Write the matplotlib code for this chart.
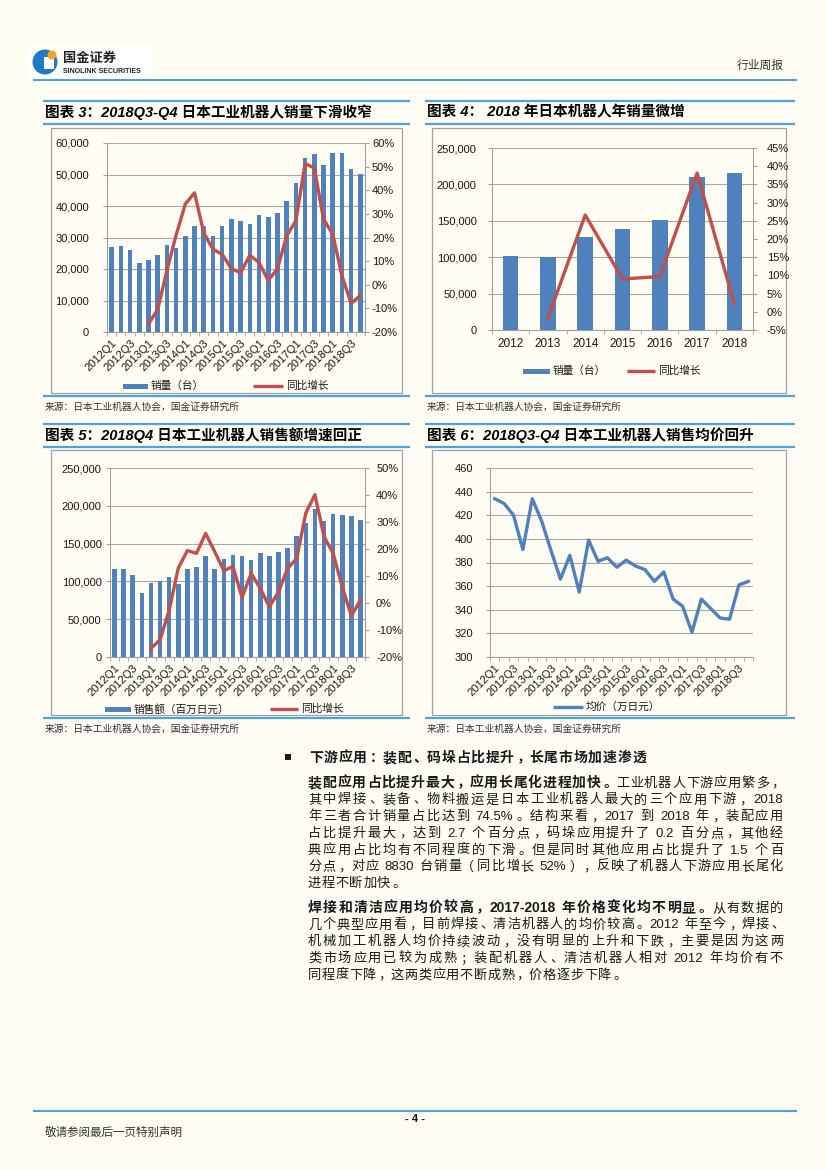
import re

import matplotlib
matplotlib.use("Agg")
import matplotlib.pyplot as plt
import numpy as np
from matplotlib.patches import Rectangle, Circle

plt.rcParams["font.family"] = ["Liberation Sans", "Noto Sans CJK SC", "DejaVu Sans"]
plt.rcParams["axes.unicode_minus"] = False

W, H = 827, 1170
BG = "#FEFCF3"
BAR_BLUE = "#4F81BD"
LINE_RED = "#C0504D"
BAND_BLUE = "#4BA5D8"
GRID = "#A8A8A8"
BOX = "#A0A0A0"
TXT = "#1A1A1A"

# ---------------- data ----------------
quarters = [f"{y}Q{q}" for y in range(2012, 2019) for q in range(1, 5)]
years = ["2012", "2013", "2014", "2015", "2016", "2017", "2018"]

# 图表3 季度销量（台）及同比（%，从2013Q1开始）
units_q = [27000, 27300, 26000, 21900, 22800, 24500, 27700, 26700,
           30400, 33600, 33500, 30600, 33800, 35800, 35200, 34200,
           37200, 36600, 37900, 41600, 47200, 55100, 56600, 52900,
           56800, 56800, 51700, 50100]
units_yoy = [-16.6, -10.5, 6.0, 21.0, 34.2, 38.9, 22.0, 15.0,
             12.9, 6.8, 5.1, 12.5, 9.4, 1.8, 6.8, 20.7,
             27.1, 51.3, 49.4, 27.8, 21.4, 3.7, -7.9, -4.5]

# 图表4 年销量（台）及同比（%，从2013开始）
units_y = [102100, 100300, 127700, 139200, 151600, 210200, 215200]
units_y_yoy = [-1.7, 26.6, 9.0, 9.7, 38.1, 2.2]

# 图表5 季度销售额（百万日元）及同比（%，从2013Q1开始）
sales_q = [117000, 116000, 109000, 85000, 98000, 100000, 106000, 96000,
           116000, 119000, 134000, 116000, 130000, 135000, 134000, 128000,
           138000, 133000, 139000, 144000, 160000, 177000, 196000, 180000,
           189000, 188000, 186000, 181000]
sales_yoy = [-16.8, -13.6, -2.6, 13.0, 19.4, 18.4, 25.8, 19.0,
             12.0, 13.5, 2.0, 11.0, 5.4, -1.4, 4.1, 12.8,
             16.5, 33.3, 40.1, 24.6, 18.4, 6.0, -4.8, 1.1]

# 图表6 均价（万日元）
price_q = [434, 430, 420, 391, 434, 415, 390, 366, 386, 355, 399, 381,
           384, 376, 382, 377, 374, 364, 372, 349, 343, 321, 349, 341,
           333, 332, 361, 364]

# ---------------- page ----------------
fig = plt.figure(figsize=(W / 100, H / 100), dpi=100, facecolor=BG)
page = fig.add_axes([0, 0, 1, 1], zorder=0)
page.set_xlim(0, W)
page.set_ylim(H, 0)
page.axis("off")
renderer = fig.canvas.get_renderer()


def frac(x0, y0, x1, y1):
    return [x0 / W, 1 - y1 / H, (x1 - x0) / W, (y1 - y0) / H]


def hline(x0, x1, y, color=BAND_BLUE, lw=1.6):
    page.plot([x0, x1], [y, y], color=color, lw=lw, solid_capstyle="butt")


# logo
page.add_patch(Rectangle((28, 45), 124, 33, fc="white", ec="none"))
page.add_patch(Circle((45, 62), 12.5, fc="#1F79C4", ec="none"))
page.add_patch(Rectangle((44, 57), 9.5, 12, fc="white", ec="none"))
page.add_patch(Circle((52, 55), 4.5, fc="#F2A51F", ec="none"))
page.text(63, 59, "国金证券", fontsize=9.5, fontweight="bold", va="center", color="#222222")
page.text(63, 71.5, "SINOLINK SECURITIES", fontsize=5.0, fontweight="bold", va="center", color="#222222")
page.text(784, 66, "行业周报", fontsize=8.5, ha="right", va="center", color="#333333")
hline(33, 797, 80, lw=1.5)

# chart panels: band x-range, band top y, title, box, source y
panels = [
    (43, 410, 101, "图表 3：2018Q3-Q4 日本工业机器人销量下滑收窄", (51, 128, 402, 393), 407),
    (425, 795, 101, "图表 4： 2018 年日本机器人年销量微增", (432, 128, 786, 393), 407),
    (43, 410, 424, "图表 5：2018Q4 日本工业机器人销售额增速回正", (51, 450, 402, 715), 729),
    (425, 795, 424, "图表 6：2018Q3-Q4 日本工业机器人销售均价回升", (432, 450, 786, 715), 729),
]
for bx0, bx1, by, title, box, sy in panels:
    hline(bx0, bx1, by)
    hline(bx0, bx1, by + 23)
    page.text(bx0 + 2, by + 11.5, title, fontsize=10.5, fontweight="bold",
              style="italic", va="center", color="black")
    page.add_patch(Rectangle((box[0], box[1]), box[2] - box[0], box[3] - box[1],
                             fc="none", ec=BOX, lw=0.9))
    hline(bx0, bx1, box[3] + 3)
    page.text(bx0 + 2, sy, "来源：日本工业机器人协会，国金证券研究所", fontsize=7,
              va="center", color="#333333")


def legend_bar(x0, x1, y, label):
    page.add_patch(Rectangle((x0, y - 2.5), x1 - x0, 5, fc=BAR_BLUE, ec="none"))
    page.text(x1 + 3, y, label, fontsize=7.7, va="center", color=TXT)


def legend_line(x0, x1, y, label, color):
    page.plot([x0, x1], [y, y], color=color, lw=2.4, solid_capstyle="butt")
    page.text(x1 + 3, y, label, fontsize=7.7, va="center", color=TXT)


def style(ax, pad):
    ax.set_facecolor("none")
    ax.spines["top"].set_visible(False)
    ax.spines["right"].set_visible(False)
    for s in ("left", "bottom"):
        ax.spines[s].set_color(BOX)
        ax.spines[s].set_linewidth(0.8)
    ax.grid(axis="y", color=GRID, lw=0.8)
    ax.set_axisbelow(True)
    ax.tick_params(axis="y", length=3, color=BOX, labelsize=8, labelcolor=TXT, pad=pad)


def style_right(ar, pad):
    for s in ("top", "left", "bottom"):
        ar.spines[s].set_visible(False)
    ar.spines["right"].set_color(BOX)
    ar.spines["right"].set_linewidth(0.8)
    ar.tick_params(axis="y", length=3, color=BOX, labelsize=8, labelcolor=TXT, pad=pad)


def quarter_xaxis(ax, n):
    ax.set_xlim(-0.5, n - 0.5)
    ax.set_xticks(np.arange(0, n, 2))
    ax.set_xticklabels(quarters[::2], rotation=45, ha="right", va="top",
                       rotation_mode="anchor", fontsize=8, color=TXT)
    ax.set_xticks(np.arange(-0.5, n, 1), minor=True)
    ax.tick_params(axis="x", which="major", length=0, pad=4)
    ax.tick_params(axis="x", which="minor", length=3, color=BOX)


def pct_axis(ar, lo, hi, step):
    ticks = list(range(lo, hi + 1, step))
    ar.set_ylim(lo, hi)
    ar.set_yticks(ticks)
    ar.set_yticklabels([f"{t}%" for t in ticks])


def num_axis(ax, hi, step):
    ticks = list(range(0, hi + 1, step))
    ax.set_ylim(0, hi)
    ax.set_yticks(ticks)
    ax.set_yticklabels([f"{t:,}" for t in ticks])


nq = len(units_q)
xq = np.arange(nq)

# 图表3
ax3 = fig.add_axes(frac(107, 143, 365, 332), zorder=2)
ax3.bar(xq, units_q, width=0.5, color=BAR_BLUE, zorder=2)
num_axis(ax3, 60000, 10000)
style(ax3, 10)
quarter_xaxis(ax3, nq)
ax3r = ax3.twinx()
ax3r.plot(xq[nq - len(units_yoy):], units_yoy, color=LINE_RED, lw=2.4, solid_joinstyle="round")
pct_axis(ax3r, -20, 60, 10)
style_right(ax3r, 2)
legend_bar(123, 148, 386, "销量（台）")
legend_line(253, 283, 386, "同比增长", LINE_RED)

# 图表4
xy = np.arange(len(years))
ax4 = fig.add_axes(frac(492, 148, 753, 330), zorder=2)
ax4.bar(xy, units_y, width=0.42, color=BAR_BLUE, zorder=2)
num_axis(ax4, 250000, 50000)
style(ax4, 8)
ax4.set_xlim(-0.5, len(years) - 0.5)
ax4.set_xticks(xy)
ax4.set_xticklabels(years, fontsize=8.5, color=TXT)
ax4.set_xticks(np.arange(-0.5, len(years), 1), minor=True)
ax4.tick_params(axis="x", which="major", length=0, pad=6)
ax4.tick_params(axis="x", which="minor", length=3, color=BOX)
ax4r = ax4.twinx()
ax4r.plot(xy[1:], units_y_yoy, color=LINE_RED, lw=2.4)
pct_axis(ax4r, -5, 45, 5)
style_right(ax4r, 7)
legend_bar(523, 550, 371, "销量（台）")
legend_line(627, 655, 371, "同比增长", LINE_RED)

# 图表5
ax5 = fig.add_axes(frac(110, 468, 365, 657), zorder=2)
ax5.bar(xq, sales_q, width=0.5, color=BAR_BLUE, zorder=2)
num_axis(ax5, 250000, 50000)
style(ax5, 3)
quarter_xaxis(ax5, nq)
ax5r = ax5.twinx()
ax5r.plot(xq[nq - len(sales_yoy):], sales_yoy, color=LINE_RED, lw=2.4, solid_joinstyle="round")
pct_axis(ax5r, -20, 50, 10)
style_right(ax5r, 5)
legend_bar(105, 131, 709, "销售额（百万日元）")
legend_line(270, 298, 709, "同比增长", LINE_RED)

# 图表6
ax6 = fig.add_axes(frac(490, 468, 753, 657), zorder=2)
ax6.plot(xq, price_q, color=BAR_BLUE, lw=2.4, solid_joinstyle="round")
ax6.set_ylim(300, 460)
ax6.set_yticks(range(300, 461, 20))
style(ax6, 9)
quarter_xaxis(ax6, nq)
legend_line(553, 583, 707, "均价（万日元）", BAR_BLUE)

# ---------------- body text ----------------
TOKEN = re.compile(r"[A-Za-z0-9.%\-]+| |.")
LEFT_PUNCT = "，。、；：！？"


def text_line(runs, x0, yc, x1=None, gap=0.8):
    items = []
    for s, bold, size in runs:
        em = size * 100 / 72
        yb = yc + 0.36 * em
        kw = dict(fontsize=size, fontweight="bold" if bold else "normal",
                  va="baseline", color=TXT)
        for tok in TOKEN.findall(s):
            if tok == " ":
                items.append((None, 2.5, 0))
            elif ord(tok[0]) < 128:
                t = page.text(x0, yb, tok, ha="left", **kw)
                w = t.get_window_extent(renderer=renderer).width
                items.append((t, w + 1.0, 0.5))
            elif tok in LEFT_PUNCT:
                t = page.text(x0, yb, tok, ha="left", **kw)
                items.append((t, em, 0.12 * em))
            elif tok == "（":
                t = page.text(x0, yb, tok, ha="right", **kw)
                items.append((t, em, 0.88 * em))
            elif tok == "）":
                t = page.text(x0, yb, tok, ha="left", **kw)
                items.append((t, em, 0.12 * em))
            else:
                t = page.text(x0, yb, tok, ha="center", **kw)
                items.append((t, em, 0.5 * em))
    if x1 is not None and len(items) > 1:
        total = sum(it[1] for it in items)
        gap = (x1 - x0 - total) / (len(items) - 1)
    x = x0
    for t, w, off in items:
        if t is not None:
            t.set_x(x + off)
        x += w + gap


BODY = 9.5
BOLD = 10
TX0, TX1 = 308, 783

page.add_patch(Rectangle((285, 754), 6, 6, fc=TXT, ec="none"))
text_line([("下游应用：装配、码垛占比提升，长尾市场加速渗透", True, BOLD)], TX0 + 1, 757, gap=0.8)

para1 = [
    [("装配应用占比提升最大，应用长尾化进程加快。", True, BOLD), ("工业机器人下游应用繁多，", False, BODY)],
    [("其中焊接、装备、物料搬运是日本工业机器人最大的三个应用下游，2018", False, BODY)],
    [("年三者合计销量占比达到 74.5%。结构来看，2017 到 2018 年，装配应用", False, BODY)],
    [("占比提升最大，达到 2.7 个百分点，码垛应用提升了 0.2 百分点，其他经", False, BODY)],
    [("典应用占比均有不同程度的下滑。但是同时其他应用占比提升了 1.5 个百", False, BODY)],
    [("分点，对应 8830 台销量（同比增长 52%），反映了机器人下游应用长尾化", False, BODY)],
    [("进程不断加快。", False, BODY)],
]
para2 = [
    [("焊接和清洁应用均价较高，2017-2018 年价格变化均不明显。", True, BOLD), ("从有数据的", False, BODY)],
    [("几个典型应用看，目前焊接、清洁机器人的均价较高。2012 年至今，焊接、", False, BODY)],
    [("机械加工机器人均价持续波动，没有明显的上升和下跌，主要是因为这两", False, BODY)],
    [("类市场应用已较为成熟；装配机器人、清洁机器人相对 2012 年均价有不", False, BODY)],
    [("同程度下降，这两类应用不断成熟，价格逐步下降。", False, BODY)],
]
LH = 16.7
for y0, para in ((782, para1), (907, para2)):
    for i, runs in enumerate(para):
        last = i == len(para) - 1
        text_line(runs, TX0, y0 + i * LH, None if last else TX1, gap=0.6)

# ---------------- footer ----------------
hline(33, 797, 1111, lw=1.5)
page.text(415, 1119, "- 4 -", fontsize=8, fontweight="bold", ha="center", va="center", color=TXT)
page.text(45, 1133, "敬请参阅最后一页特别声明", fontsize=8.3, va="center", color="#333333")

fig.savefig("out.png", dpi=100, facecolor=BG)
